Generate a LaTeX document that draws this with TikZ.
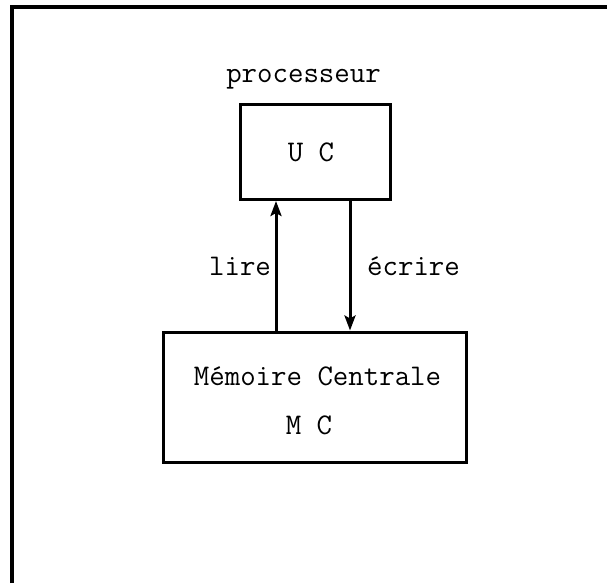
\documentclass[tikz,border=0pt]{standalone}
\usetikzlibrary{arrows.meta}
\begin{document}
\begin{tikzpicture}[x=1pt,y=1pt,
  typed/.style={font=\fontsize{30}{36}\selectfont\ttfamily, inner sep=0pt},
  unitbox/.style={draw, line width=3pt, inner sep=0pt},
  flow/.style={line width=3pt, -{Stealth[length=15pt,width=11pt,inset=3pt]}}]
  \useasboundingbox (0,0) rectangle (607,-583);

  % open frame: left side and top
  \draw[line width=3.5pt] (12,-583) -- (12,-7) -- (607,-7);

  % processor unit
  \node[typed, anchor=base] (proc) at (303.5,-83) {processeur};
  \node[unitbox, minimum width=150pt, minimum height=94.5pt] (UC) at (315,-152.25) {};
  \node[typed, anchor=base] (uclabel) at (311,-161.5) {U C};

  % central memory
  \node[unitbox, minimum width=303pt, minimum height=130pt] (MC) at (314.5,-397) {};
  \node[typed, anchor=base] (mcname) at (317.5,-385) {Mémoire Centrale};
  \node[typed, anchor=base] (mcabbr) at (309,-434) {M C};

  % read and write connectors
  \coordinate (rx) at (276,0);
  \coordinate (wx) at (350,0);
  \draw[flow] (MC.north -| rx) -- (UC.south -| rx);
  \draw[flow] (UC.south -| wx) -- (MC.north -| wx);

  \node[typed, anchor=base] (lire) at (240,-275) {lire};
  \node[typed, anchor=base] (ecrire) at (413.5,-275) {écrire};
\end{tikzpicture}
\end{document}
